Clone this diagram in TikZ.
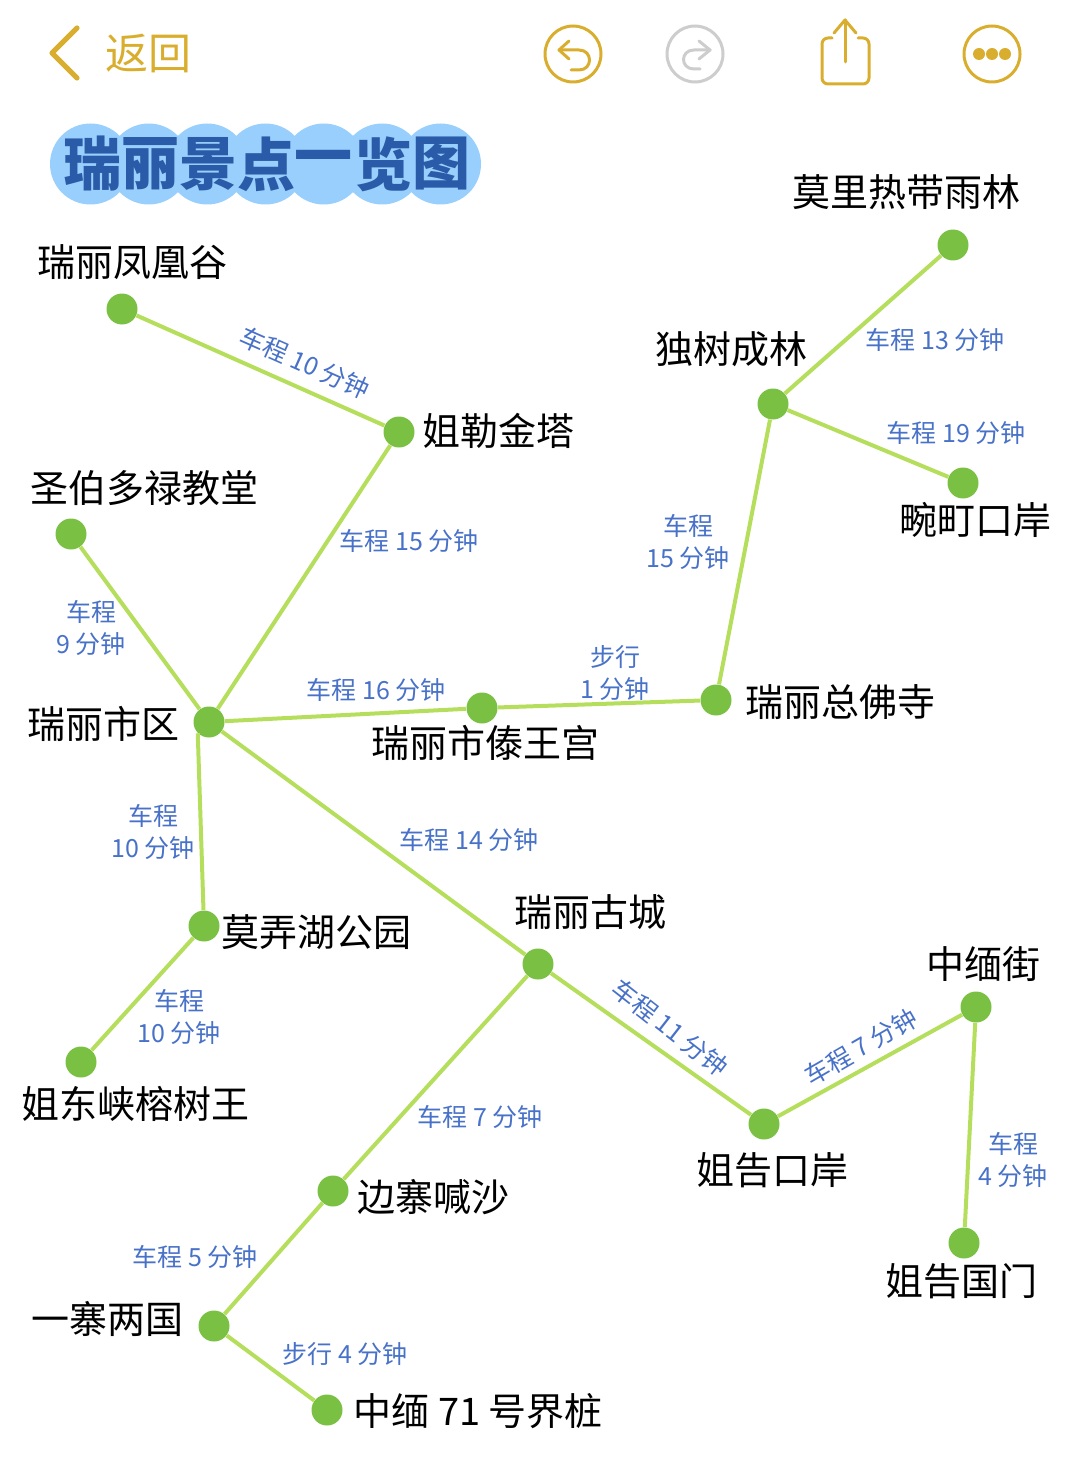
\documentclass[tikz,border=0pt]{standalone}
\usepackage{fontspec}
\setmainfont{Noto Sans CJK SC}
\usetikzlibrary{arrows.meta,positioning}
\definecolor{RouteGreen}{RGB}{181,222,92}
\definecolor{SpotGreen}{RGB}{122,193,67}
\definecolor{LabelBlue}{RGB}{72,113,200}
\definecolor{TitleBlue}{RGB}{42,91,168}
\definecolor{BubbleBlue}{RGB}{153,207,253}
\definecolor{MemoGold}{RGB}{217,174,46}
\definecolor{MemoGray}{RGB}{205,205,205}
\tikzset{
  spot/.style={circle, fill=SpotGreen, minimum size=15.5pt, inner sep=0pt},
  placename/.style={inner sep=0pt, font=\fontsize{19}{19}\selectfont,
    text height=16pt, text depth=3pt},
  routelabel/.style={inner sep=0pt, text=LabelBlue, align=center,
    font=\fontsize{12.5}{16}\selectfont},
  route/.style={line width=2pt, RouteGreen},
  bubble/.style={circle, fill=BubbleBlue, minimum size=40.5pt, inner sep=0pt},
  titlechar/.style={inner sep=0pt, text=TitleBlue, font=\fontsize{29}{29}\selectfont\bfseries},
  iconline/.style={line width=1.5pt, MemoGold, line cap=round, line join=round},
  iconring/.style={circle, draw=MemoGold, line width=1.5pt, minimum size=28pt, inner sep=0pt}
}
\begin{document}
\begin{tikzpicture}[x=0.5pt,y=-0.5pt]
  \useasboundingbox (0,0) rectangle (1080,1466);
  \coordinate (backtop) at (77,28);
  \coordinate (backtip) at (52,53);
  \coordinate (backbot) at (77,78);
  \draw[iconline, line width=2.6pt] (backtop) -- (backtip) -- (backbot);
  \node[inner sep=0pt, text=MemoGold, font=\fontsize{21.5}{21.5}\selectfont] (back) at (148,53) {返回};
  \node[iconring] (undo) at (573,54) {};
  \draw[iconline] (569,41) -- (559,50) -- (569,59);
  \draw[iconline] (559,50) -- (579,50) .. controls (593,50) and (593,70) .. (579,70) -- (571,70);
  \node[iconring, draw=MemoGray] (redo) at (695,54) {};
  \draw[iconline, MemoGray] (699,41) -- (710,50) -- (699,59);
  \draw[iconline, MemoGray] (710,50) -- (694,50) .. controls (680,50) and (680,69) .. (694,69) -- (700,69);
  \draw[iconline, rounded corners=3pt] (832,38) -- (822,38) -- (822,84) -- (869,84) -- (869,38) -- (858,38);
  \draw[iconline] (845,62) -- (845,20);
  \draw[iconline] (834,33) -- (845,20) -- (856,33);
  \node[iconring] (more) at (992,54) {};
  \foreach \dotx in {979,992,1005}
    \fill[MemoGold] (\dotx,54) circle (3pt);

  \foreach \i/\bx in {1/90.5,2/148.8,3/207.2,4/265.5,5/323.8,6/382.2,7/440.5}
    \node[bubble] (bubble\i) at (\bx,164) {};
  \foreach \i/\bx/\ch in {1/92/瑞,2/150/丽,3/208/景,4/266/点,5/323/一,6/383/览,7/441/图}
    \node[titlechar] (char\i) at (\bx,164) {\ch};

  \node[spot] (fenghuang) at (122,309) {};
  \node[spot] (jiele) at (399,432) {};
  \node[spot] (shengbo) at (71,534) {};
  \node[spot] (shiqu) at (209,722) {};
  \node[spot] (daiwang) at (482,708) {};
  \node[spot] (zongfo) at (716,700) {};
  \node[spot] (molong) at (204,926) {};
  \node[spot] (jiedong) at (81,1062) {};
  \node[spot] (gucheng) at (538,964) {};
  \node[spot] (jiegao) at (764,1124) {};
  \node[spot] (zhongmian) at (976,1007) {};
  \node[spot] (guomen) at (964,1243) {};
  \node[spot] (biansai) at (333,1191) {};
  \node[spot] (yizhai) at (214,1326) {};
  \node[spot] (jiezhuang) at (327,1410) {};
  \node[spot] (dushu) at (773,404) {};
  \node[spot] (moli) at (953,245) {};
  \node[spot] (wanding) at (963,483) {};

  \begin{scope}[on background layer/.style={}]
  \draw[route] (fenghuang) -- (jiele);
  \draw[route] (jiele) -- (shiqu);
  \draw[route] (shengbo) -- (shiqu);
  \draw[route] (shiqu) -- (daiwang);
  \draw[route] (daiwang) -- (zongfo);
  \draw[route] (zongfo) -- (dushu);
  \draw[route] (dushu) -- (moli);
  \draw[route] (dushu) -- (wanding);
  \draw[route] (shiqu.south west) -- (molong);
  \draw[route] (molong) -- (jiedong);
  \draw[route] (shiqu) -- (gucheng);
  \draw[route] (gucheng) -- (biansai);
  \draw[route] (gucheng) -- (jiegao);
  \draw[route] (jiegao) -- (zhongmian);
  \draw[route] (zhongmian) -- (guomen);
  \draw[route] (biansai) -- (yizhai);
  \draw[route] (yizhai) -- (jiezhuang);
  \end{scope}

  \node[placename, above=5.25pt of fenghuang, xshift=5pt] (fenghuangname) {瑞丽凤凰谷};
  \node[placename, right=3.75pt of jiele] (jielename) {姐勒金塔};
  \node[placename, above=4.75pt of shengbo, xshift=36.5pt] (shengboname) {圣伯多禄教堂};
  \node[placename, left=6.75pt of shiqu, yshift=-1.5pt] (shiquname) {瑞丽市区};
  \node[placename, below=0.75pt of daiwang, xshift=1.5pt] (daiwangname) {瑞丽市傣王宫};
  \node[placename, right=6.75pt of zongfo, yshift=-1.5pt] (zongfoname) {瑞丽总佛寺};
  \node[placename, right=0.75pt of molong, yshift=-3.5pt] (molongname) {莫弄湖公园};
  \node[placename, below=4.25pt of jiedong, xshift=27pt] (jiedongname) {姐东峡榕树王};
  \node[placename, above=7.75pt of gucheng, xshift=26pt] (guchengname) {瑞丽古城};
  \node[placename, below=6.25pt of jiegao, xshift=4pt] (jiegaoname) {姐告口岸};
  \node[placename, above=3.25pt of zhongmian, xshift=3.5pt] (zhongmianname) {中缅街};
  \node[placename, below=2.25pt of guomen, xshift=-1.5pt] (guomenname) {姐告国门};
  \node[placename, right=4.25pt of biansai, yshift=-3.5pt] (biansainame) {边寨喊沙};
  \node[placename, left=7.25pt of yizhai, yshift=3pt] (yizhainame) {一寨两国};
  \node[placename, right=5.25pt of jiezhuang, yshift=-1pt] (jiezhuangname) {中缅 71 号界桩};
  \node[placename, above=9.25pt of dushu, xshift=-21pt] (dushuname) {独树成林};
  \node[placename, above=8.25pt of moli, xshift=-23.5pt] (moliname) {莫里热带雨林};
  \node[placename, below=1.75pt of wanding, xshift=6pt] (wandingname) {畹町口岸};

  \node[routelabel, rotate=-24] (fenghuangtime) at (305,363) {车程 10 分钟};
  \node[routelabel] (jieletime) at (409,541) {车程 15 分钟};
  \node[routelabel] (shengbotime) at (91,628) {车程\\9 分钟};
  \node[routelabel] (daiwangtime) at (376,690) {车程 16 分钟};
  \node[routelabel] (zongfotime) at (615,673) {步行\\1 分钟};
  \node[routelabel] (dushutime) at (688,542) {车程\\15 分钟};
  \node[routelabel] (molitime) at (935,340) {车程 13 分钟};
  \node[routelabel] (wandingtime) at (956,433) {车程 19 分钟};
  \node[routelabel] (molongtime) at (153,832) {车程\\10 分钟};
  \node[routelabel] (guchengtime) at (469,840) {车程 14 分钟};
  \node[routelabel] (jiedongtime) at (179,1017) {车程\\10 分钟};
  \node[routelabel, rotate=-38] (jiegaotime) at (670,1028) {车程 11 分钟};
  \node[routelabel, rotate=30] (zhongmiantime) at (861,1047) {车程 7 分钟};
  \node[routelabel] (biansaitime) at (480,1117) {车程 7 分钟};
  \node[routelabel] (guomentime) at (1013,1160) {车程\\4 分钟};
  \node[routelabel] (yizhaitime) at (195,1257) {车程 5 分钟};
  \node[routelabel] (jiezhuangtime) at (345,1354) {步行 4 分钟};
\end{tikzpicture}
\end{document}
